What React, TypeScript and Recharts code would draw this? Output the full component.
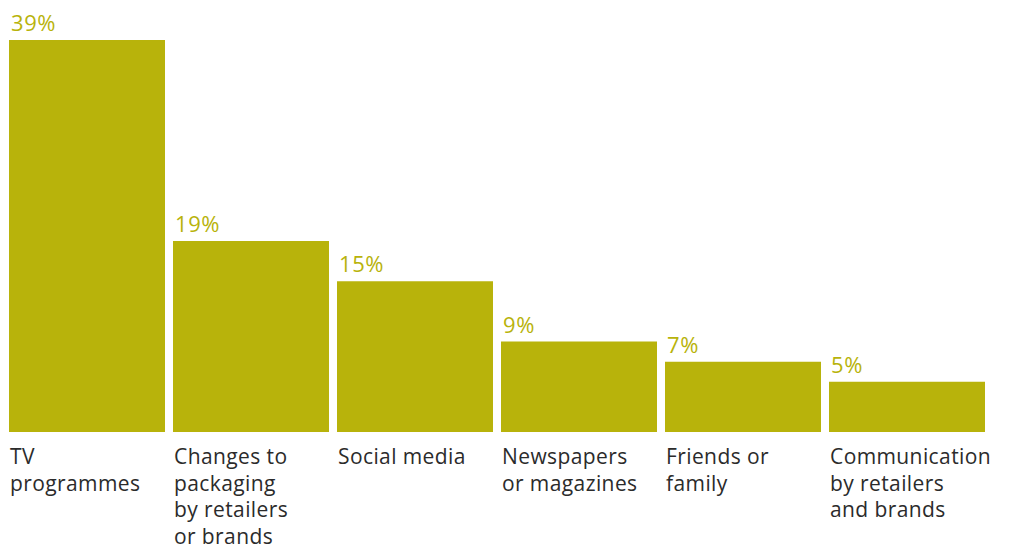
import { BarChart, Bar, XAxis, YAxis, LabelList } from "recharts";

const categories = [
  ["TV", "programmes"],
  ["Changes to", "packaging", "by retailers", "or brands"],
  ["Social media"],
  ["Newspapers", "or magazines"],
  ["Friends or", "family"],
  ["Communication", "by retailers", "and brands"],
];
const values = [39, 19, 15, 9, 7, 5];

const BAR_COLOR = "#b8b30b";
const TEXT_COLOR = "#2b2b2b";
const FONT = "'Open Sans', sans-serif";

const chartData = values.map((v, i) => ({ key: String(i), value: v }));

function CategoryTick(props: any) {
  const { x, y, index } = props;
  const lines = categories[index] || [];
  return (
    <text
      x={x - 77}
      y={y + 24}
      fill={TEXT_COLOR}
      fontSize={21}
      fontFamily={FONT}
      letterSpacing={0.4}
    >
      {lines.map((line, i) => (
        <tspan key={i} x={x - 77} dy={i === 0 ? 0 : 26.5}>
          {line}
        </tspan>
      ))}
    </text>
  );
}

function ValueLabel(props: any) {
  const { x, y, value } = props;
  return (
    <text
      x={x + 2}
      y={y - 9}
      fill={BAR_COLOR}
      fontSize={22}
      fontFamily={FONT}
      letterSpacing={0.6}
    >
      {value}%
    </text>
  );
}

export default function App() {
  return (
    <div style={{ marginLeft: -4, marginTop: -8 }}>
      <BarChart
        width={1005}
        height={546}
        data={chartData}
        margin={{ top: 40, right: 20, left: 1, bottom: 0 }}
        barSize={156}
      >
        <XAxis
          dataKey="key"
          axisLine={false}
          tickLine={false}
          height={114}
          interval={0}
          tick={<CategoryTick />}
        />
        <YAxis hide domain={[0, 39]} />
        <Bar dataKey="value" fill={BAR_COLOR} isAnimationActive={false}>
          <LabelList dataKey="value" content={<ValueLabel />} />
        </Bar>
      </BarChart>
    </div>
  );
}
